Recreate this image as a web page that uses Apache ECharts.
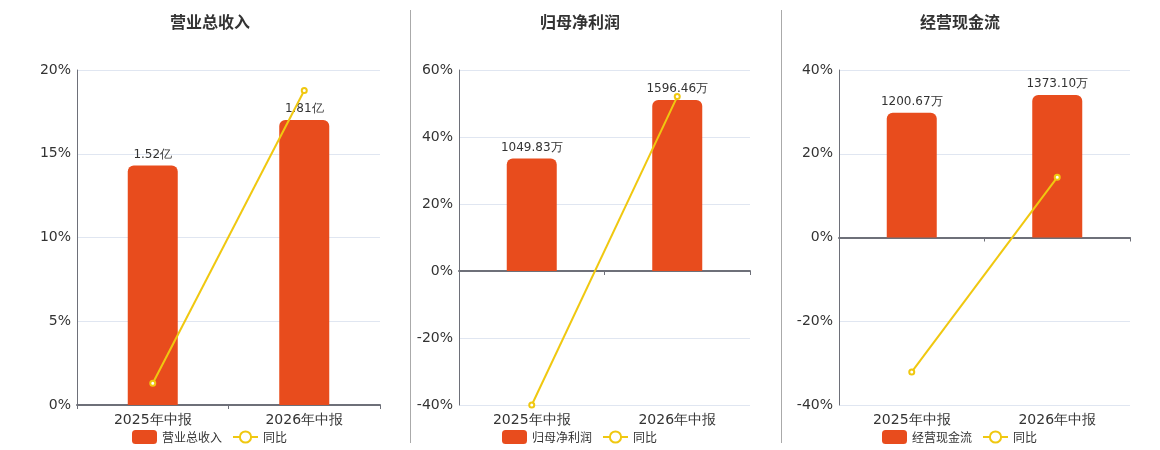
<!DOCTYPE html>
<html>
<head>
<meta charset="utf-8">
<script src="https://cdn.jsdelivr.net/npm/echarts@6/dist/echarts.min.js"></script>
<style>html,body{margin:0;padding:0;background:#fff}#c{width:1160px;height:450px}</style>
</head>
<body>
<div id="c"></div>
<script>
var categories = ['2025年中报', '2026年中报'];
var titles = ['营业总收入', '归母净利润', '经营现金流'];
var units = ['亿', '万', '万'];
var revenue = [1.52, 1.81];
var revenueYoY = [1.30, 18.78];
var profit = [1049.83, 1596.46];
var profitYoY = [-40.0, 52.07];
var cash = [1200.67, 1373.10];
var cashYoY = [-32.1, 14.36];
var pctMin = [0, -40, -40];
var pctMax = [20, 60, 40];
var pctInterval = [5, 20, 20];

var barData = [revenue, profit, cash];
var lineData = [revenueYoY, profitYoY, cashYoY];

var gridLeft = [77, 459, 839];
var gridWidth = [303, 291, 291];
var centers = [210, 580, 960];
var BAR = '#E84C1D', LINE = '#F0C810', AX = '#6E7079';

var option = {
  backgroundColor: '#fff',
  animation: false,
  title: [], legend: [], grid: [], xAxis: [], yAxis: [], series: [],
  graphic: [
    {type: 'line', shape: {x1: 410.5, y1: 10, x2: 410.5, y2: 443}, style: {stroke: '#aaa', lineWidth: 1}},
    {type: 'line', shape: {x1: 781.5, y1: 10, x2: 781.5, y2: 443}, style: {stroke: '#aaa', lineWidth: 1}}
  ]
};

for (var i = 0; i < 3; i++) {
  option.title.push({
    text: titles[i], left: centers[i] - 5, top: 9, textAlign: 'center',
    textStyle: {fontSize: 16, fontWeight: 'bold', color: '#333', fontFamily: 'Noto Sans CJK SC'}
  });
  option.legend.push({
    data: [titles[i], '同比'], left: centers[i] - 83, top: 425,
    itemWidth: 25, itemHeight: 14, itemGap: 10,
    textStyle: {fontSize: 12, color: '#333', fontFamily: 'Noto Sans CJK SC'}
  });
  option.grid.push({left: gridLeft[i], width: gridWidth[i], top: 70, bottom: 45});
  option.xAxis.push({
    type: 'category', gridIndex: i, data: categories,
    axisLine: {onZero: true, lineStyle: {color: AX, width: 2}},
    axisTick: {show: true, length: 4, lineStyle: {color: AX}},
    axisLabel: {fontSize: 14, color: '#333', margin: 8, fontFamily: 'DejaVu Sans'}
  });
  option.yAxis.push({
    type: 'value', gridIndex: i, min: pctMin[i], max: pctMax[i], interval: pctInterval[i],
    axisLine: {show: true, lineStyle: {color: AX, width: 1}},
    axisTick: {show: false},
    axisLabel: {formatter: '{value}%', fontSize: 14, color: '#333', margin: 6, fontFamily: 'DejaVu Sans'},
    splitLine: {lineStyle: {color: '#E0E6F1'}}
  });
  var bmax = Math.max.apply(null, barData[i]) * 1.175;
  var bmin = bmax * pctMin[i] / pctMax[i];
  option.yAxis.push({
    type: 'value', gridIndex: i, min: bmin, max: bmax, show: false, splitLine: {show: false}
  });
  (function(u){
    option.series.push({
      name: titles[i], type: 'bar', xAxisIndex: i, yAxisIndex: 2 * i + 1,
      data: barData[i], barWidth: 50,
      itemStyle: {color: BAR, borderRadius: [6, 6, 0, 0]},
      label: {show: true, position: 'top', fontSize: 12, color: '#333', fontFamily: 'DejaVu Sans',
        formatter: function(p){ return p.value.toFixed(2) + u; }}
    });
  })(units[i]);
  option.series.push({
    name: '同比', type: 'line', xAxisIndex: i, yAxisIndex: 2 * i,
    data: lineData[i], symbol: 'emptyCircle', symbolSize: 5, z: 5,
    lineStyle: {color: LINE, width: 2}, itemStyle: {color: LINE, borderWidth: 2}
  });
}

var chart = echarts.init(document.getElementById('c'));
chart.setOption(option);
</script>
</body>
</html>
